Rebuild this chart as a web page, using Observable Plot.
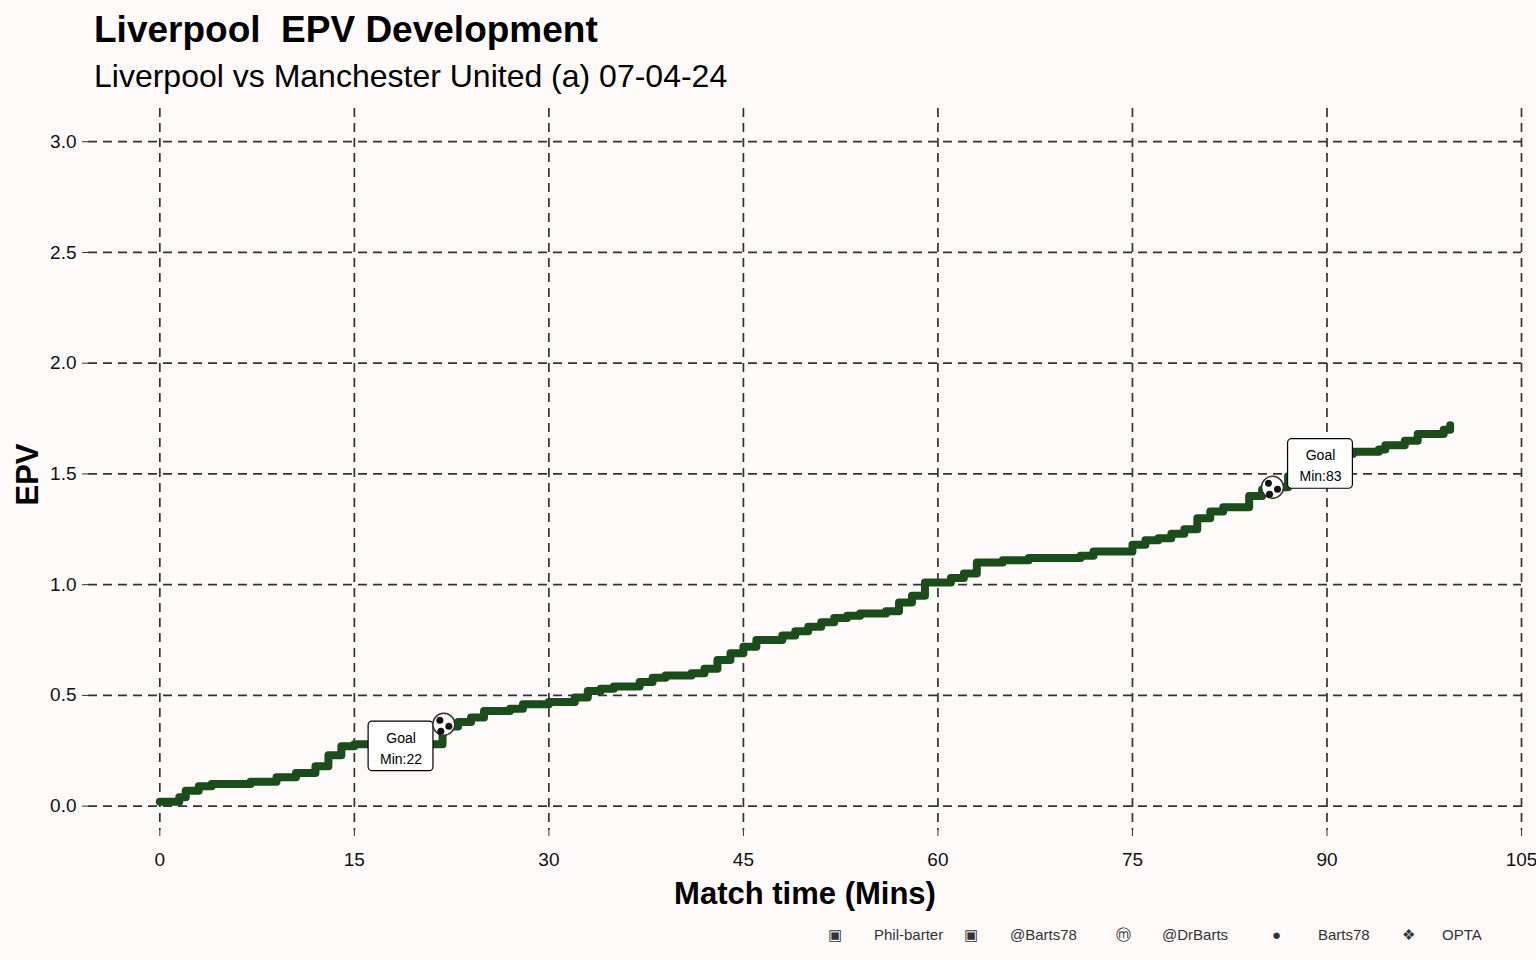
<!DOCTYPE html>
<html><head><meta charset="utf-8">
<script src="https://cdn.jsdelivr.net/npm/d3@7"></script>
<script src="https://cdn.jsdelivr.net/npm/@observablehq/plot@0.6"></script>
<style>
body{margin:0;background:#fffafa;font-family:"Liberation Sans",Arial,sans-serif;width:1536px;height:960px;overflow:hidden;position:relative}
#t{position:absolute;left:94px;top:9px;font-size:37px;font-weight:bold;color:#000;white-space:pre}
#s{position:absolute;left:94px;top:58px;font-size:32px;color:#000}
#c{position:absolute;top:95px;left:0}
#f{position:absolute;top:926px;left:828px;font-size:15px;color:#333;white-space:nowrap}
#f span{display:inline-block}
</style></head><body>
<div id="t">Liverpool  EPV Development</div>
<div id="s">Liverpool vs Manchester United (a) 07-04-24</div>
<div id="c"></div>
<div id="f"><span style="width:46px">▣</span><span style="width:90px">Phil-barter</span><span style="width:46px">▣</span><span style="width:106px">@Barts78</span><span style="width:46px">ⓜ</span><span style="width:110px">@DrBarts</span><span style="width:46px">●</span><span style="width:84px">Barts78</span><span style="width:40px">❖</span><span>OPTA</span></div>
<script>
const minutes = [0,1.5,2,3,4,7,9,10.5,12,13,14,15,21.8,23,24,25,27,28,30,32,33,34,35,37,38,39,41,42,43,44,45,46,48,49,50,51,52,53,54,56,57,58,59,61,62,63,65,67,71,72,75,76,77,78,79,80,81,82,84,85,85.8,87,88.5,90,92,94,94.5,96,97,99,99.5];
const epv =    [0.02,0.04,0.07,0.09,0.10,0.11,0.13,0.15,0.18,0.23,0.27,0.28,0.36,0.38,0.40,0.43,0.44,0.46,0.47,0.49,0.52,0.53,0.54,0.56,0.58,0.59,0.60,0.62,0.66,0.69,0.72,0.75,0.77,0.79,0.81,0.83,0.85,0.86,0.87,0.88,0.92,0.95,1.01,1.03,1.05,1.10,1.11,1.12,1.13,1.15,1.18,1.20,1.21,1.23,1.25,1.30,1.33,1.35,1.40,1.43,1.44,1.49,1.56,1.59,1.60,1.61,1.63,1.65,1.68,1.70,1.72];
const goalMin = [22, 83];
const goalX = [21.9, 85.8];
const goalY = [0.37, 1.44];
const labelX = [18.6, 89.5];
const labelY = [0.27, 1.545];
const xTicks = [0,15,30,45,60,75,90,105];
const yTicks = [0,0.5,1,1.5,2,2.5,3];

const data = minutes.map((m,i)=>({m, v: epv[i]}));
const goals = goalMin.map((g,i)=>({g, x: goalX[i], y: goalY[i], lx: labelX[i], ly: labelY[i]}));

const chart = Plot.plot({
  width: 1536, height: 820,
  marginLeft: 88, marginRight: 15, marginTop: 13, marginBottom: 85,
  style: {background: "transparent", fontFamily: "Liberation Sans, Arial, sans-serif"},
  x: {domain: [-5.5, 105], ticks: xTicks, label: null},
  y: {domain: [-0.11, 3.15], ticks: yTicks, label: null},
  marks: [
    Plot.ruleX(xTicks, {stroke: "#333", strokeWidth: 1.7, strokeDasharray: "9,6"}),
    Plot.ruleY(yTicks, {stroke: "#333", strokeWidth: 1.7, strokeDasharray: "9,6"}),
    Plot.axisX({ticks: xTicks, tickFormat: d=>d, fontSize: 19, tickSize: 6, tickPadding: 16, stroke: "#333", color: "#111"}),
    Plot.axisY({ticks: yTicks, tickFormat: d=>d.toFixed(1), fontSize: 19, tickSize: 6, tickPadding: 6, stroke: "#333", color: "#111"}),
    Plot.line(data, {x: "m", y: "v", curve: "step-after", stroke: "#1a4d1a", strokeWidth: 8, strokeLinejoin: "round", strokeLinecap: "round"}),
    Plot.rect(goals, {x1: d=>d.lx-2.5, x2: d=>d.lx+2.5, y1: d=>d.ly-0.112, y2: d=>d.ly+0.112, fill: "white", stroke: "black", strokeWidth: 1.2, rx: 4}),
    Plot.text(goals, {x: "lx", y: "ly", text: d=>"Goal\nMin:"+d.g, fontSize: 14, lineHeight: 1.5, fill: "#000"}),
    Plot.dot(goals, {x: "x", y: "y", r: 11, fill: "white", stroke: "#333", strokeWidth: 1.5}),
    Plot.dot(goals, {x: "x", y: "y", r: 3.5, fill: "#111", dx: -4, dy: -4}),
    Plot.dot(goals, {x: "x", y: "y", r: 3.5, fill: "#111", dx: 5, dy: 2}),
    Plot.dot(goals, {x: "x", y: "y", r: 3.5, fill: "#111", dx: -3, dy: 7}),
    Plot.text(["Match time (Mins)"], {frameAnchor: "bottom", dy: 73, text: d=>d, fontSize: 31, fontWeight: "bold", fill: "#000"}),
    Plot.text(["EPV"], {frameAnchor: "left", dx: -60, dy: 36, rotate: -90, text: d=>d, fontSize: 31, fontWeight: "bold", fill: "#000"})
  ]
});
document.getElementById("c").append(chart);
</script></body></html>
